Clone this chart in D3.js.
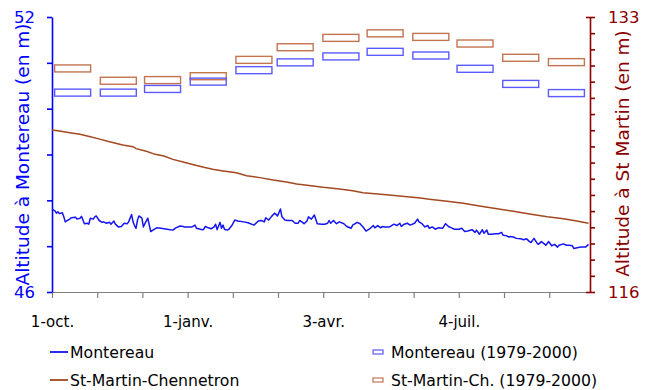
<!DOCTYPE html>
<html>
<head>
<meta charset="utf-8">
<script src="https://cdn.jsdelivr.net/npm/d3@7/dist/d3.min.js"></script>
<style>
  body { margin: 0; background: #fff; }
  text { font-family: "DejaVu Sans", sans-serif; }
</style>
</head>
<body>
<div id="chart"></div>
<script>
// day index from 1-oct (0) to 30-sept (364)
var montereauDaily = [
	[0,47.81],[2,47.77],[3,47.72],[4,47.75],[5,47.71],[7,47.73],[8,47.64],[9,47.53],[10,47.55],[12,47.59],
	[13,47.62],[16,47.63],[17,47.59],[19,47.61],[20,47.65],[21,47.57],[22,47.49],[24,47.50],[25,47.48],[26,47.61],
	[28,47.59],[29,47.64],[30,47.66],[32,47.56],[34,47.52],[35,47.53],[37,47.50],[39,47.52],[40,47.48],[42,47.55],
	[43,47.48],[45,47.42],[47,47.43],[49,47.50],[51,47.49],[52,47.53],[54,47.69],[55,47.53],[56,47.45],[57,47.39],
	[58,47.57],[59,47.66],[61,47.61],[62,47.42],[63,47.49],[65,47.61],[66,47.46],[67,47.32],[69,47.36],[71,47.40],
	[74,47.39],[78,47.37],[82,47.35],[84,47.40],[87,47.44],[89,47.43],[90,47.42],[95,47.42],[97,47.46],[98,47.39],
	[102,47.36],[103,47.37],[104,47.43],[106,47.40],[108,47.38],[110,47.42],[111,47.48],[112,47.36],[114,47.52],[115,47.39],
	[116,47.46],[117,47.37],[119,47.35],[120,47.37],[122,47.45],[124,47.57],[126,47.55],[130,47.53],[133,47.51],[137,47.46],
	[140,47.55],[142,47.56],[144,47.53],[145,47.62],[147,47.57],[149,47.65],[151,47.72],[153,47.66],[155,47.81],[156,47.64],
	[158,47.57],[160,47.56],[163,47.56],[165,47.50],[167,47.50],[168,47.56],[170,47.52],[171,47.49],[173,47.55],[174,47.64],
	[176,47.59],[178,47.68],[180,47.49],[183,47.48],[185,47.48],[187,47.50],[188,47.56],[189,47.50],[191,47.56],[193,47.49],
	[195,47.53],[198,47.49],[200,47.43],[203,47.39],[204,47.46],[207,47.52],[209,47.49],[211,47.42],[213,47.33],[216,47.39],
	[218,47.45],[219,47.40],[221,47.45],[223,47.40],[224,47.43],[226,47.42],[229,47.42],[232,47.48],[234,47.45],[236,47.50],
	[237,47.43],[239,47.48],[241,47.50],[243,47.46],[246,47.50],[248,47.59],[249,47.53],[251,47.49],[253,47.42],[255,47.45],
	[256,47.39],[258,47.42],[260,47.37],[262,47.40],[265,47.39],[267,47.49],[269,47.43],[271,47.40],[273,47.37],[276,47.37],
	[278,47.39],[280,47.32],[282,47.33],[285,47.36],[287,47.30],[288,47.35],[290,47.26],[292,47.36],[293,47.28],[295,47.35],
	[296,47.26],[298,47.26],[301,47.27],[303,47.27],[305,47.30],[306,47.24],[308,47.23],[310,47.20],[311,47.21],[313,47.20],
	[315,47.17],[318,47.16],[320,47.14],[322,47.16],[324,47.10],[325,47.08],[327,47.17],[329,47.07],[330,47.04],[332,47.10],
	[334,47.05],[335,47.02],[337,47.10],[339,47.01],[341,47.04],[343,46.98],[344,47.02],[347,47.05],[349,47.02],[351,47.02],
	[353,47.01],[354,46.95],[357,46.97],[359,46.98],[362,46.98],[364,47.04]
];

var stMartinDaily = [
	[0,126.01],[5,125.95],[12,125.85],[19,125.75],[26,125.60],[31,125.48],[39,125.29],[48,125.09],[55,124.98],[57,124.86],
	[64,124.70],[70,124.51],[76,124.41],[82,124.20],[89,124.04],[96,123.87],[103,123.71],[109,123.59],[115,123.50],[125,123.37],
	[132,123.19],[141,123.07],[150,122.92],[159,122.80],[166,122.68],[173,122.60],[184,122.47],[195,122.37],[204,122.26],[211,122.14],
	[227,122.01],[241,121.89],[250,121.81],[256,121.73],[268,121.61],[279,121.48],[290,121.32],[302,121.15],[313,120.99],[324,120.82],
	[336,120.65],[347,120.53],[356,120.39],[364,120.25]
];

// 1979-2000 monthly means, placed on the 15th of each month
var months = ["oct", "nov", "déc", "janv", "févr", "mars", "avr", "mai", "juin", "juil", "août", "sept"];
var monthDays = [14, 45, 75, 106, 137, 165, 196, 226, 257, 287, 318, 349];
var montereauMonthly = [50.35, 50.35, 50.43, 50.59, 50.84, 51.01, 51.14, 51.24, 51.16, 50.87, 50.54, 50.34];
var stMartinMonthly = [129.82, 129.06, 129.10, 129.34, 130.35, 131.13, 131.71, 131.99, 131.77, 131.36, 130.48, 130.21];

var xTickDays = d3.range(12).map(function(i) { return i * 92 / 3; });
var xLabels = ["1-oct.", "1-janv.", "3-avr.", "4-juil."];
var leftTicks = [46, 47, 48, 49, 50, 51, 52];
var rightTicks = d3.range(116, 134);

var legendItems = [
	{ label: "Montereau", type: "line", color: "#1515f0" },
	{ label: "St-Martin-Chennetron", type: "line", color: "#a3481f" },
	{ label: "Montereau (1979-2000)", type: "box", color: "#5a5aff" },
	{ label: "St-Martin-Ch. (1979-2000)", type: "box", color: "#c47350" }
];

var W = 649, H = 390;
var dims = { left: 52, right: 590, top: 17, bottom: 292 };

var svg = d3.select("#chart").append("svg")
	.attr("width", W)
	.attr("height", H);

var x = d3.scaleLinear().domain([0, 365]).range([dims.left, dims.right]);
var yL = d3.scaleLinear().domain([46, 52]).range([dims.bottom, dims.top]);
var yR = d3.scaleLinear().domain([116, 133]).range([dims.bottom, dims.top]);

// x axis
var xAxis = svg.append("g")
	.attr("transform", "translate(0," + dims.bottom + ")")
	.call(d3.axisBottom(x)
		.tickValues(xTickDays)
		.tickSizeInner(6)
		.tickSizeOuter(0)
		.tickPadding(18)
		.tickFormat(function(d, i) { return i % 3 == 0 ? xLabels[i / 3] : ""; }));
xAxis.selectAll("path, line").attr("stroke", "#808080").attr("stroke-width", 1.2);
xAxis.selectAll("text").attr("fill", "#000").style("font-size", "15px");

// left axis
var leftAxis = svg.append("g")
	.attr("transform", "translate(" + dims.left + ",0)")
	.call(d3.axisLeft(yL)
		.tickValues(leftTicks)
		.tickSizeInner(5)
		.tickSizeOuter(0)
		.tickPadding(12)
		.tickFormat(function(d) { return d == 46 || d == 52 ? d : ""; }));
leftAxis.selectAll("path, line").attr("stroke", "#0000ff").attr("stroke-width", 1.6);
leftAxis.selectAll("text").attr("fill", "#0000ff").style("font-size", "16.5px");

// right axis
var rightAxis = svg.append("g")
	.attr("transform", "translate(" + dims.right + ",0)")
	.call(d3.axisRight(yR)
		.tickValues(rightTicks)
		.tickSizeInner(5)
		.tickSizeOuter(0)
		.tickPadding(13)
		.tickFormat(function(d) { return d == 116 || d == 133 ? d : ""; }));
rightAxis.selectAll("path, line").attr("stroke", "#8b0000").attr("stroke-width", 1.6);
rightAxis.selectAll("text").attr("fill", "#8b0000").style("font-size", "16.5px");
// end ticks cross the axis
rightAxis.selectAll(".tick")
	.filter(function(d) { return d == 116 || d == 133; })
	.select("line").attr("x1", -4);

// axis titles
svg.append("text")
	.attr("transform", "translate(22," + ((dims.top + dims.bottom) / 2) + ") rotate(-90)")
	.attr("text-anchor", "middle")
	.attr("dominant-baseline", "central")
	.attr("fill", "#0000ff")
	.style("font-size", "18.5px")
	.text("Altitude à Montereau (en m)");
svg.append("text")
	.attr("transform", "translate(622," + ((dims.top + dims.bottom) / 2 - 1) + ") rotate(-90)")
	.attr("text-anchor", "middle")
	.attr("dominant-baseline", "central")
	.attr("fill", "#8b0000")
	.style("font-size", "18.5px")
	.text("Altitude à St Martin (en m)");

// monthly boxes
var boxW = 36, boxH = 7;
svg.append("g").selectAll("rect")
	.data(stMartinMonthly)
	.enter().append("rect")
	.attr("x", function(d, i) { return x(monthDays[i]) - boxW / 2; })
	.attr("y", function(d) { return yR(d) - boxH / 2; })
	.attr("width", boxW)
	.attr("height", boxH)
	.attr("fill", "none")
	.attr("stroke", legendItems[3].color)
	.attr("stroke-width", 1.4);
svg.append("g").selectAll("rect")
	.data(montereauMonthly)
	.enter().append("rect")
	.attr("x", function(d, i) { return x(monthDays[i]) - boxW / 2; })
	.attr("y", function(d) { return yL(d) - boxH / 2; })
	.attr("width", boxW)
	.attr("height", boxH)
	.attr("fill", "none")
	.attr("stroke", legendItems[2].color)
	.attr("stroke-width", 1.4);

// daily lines
var lineL = d3.line().x(function(d) { return x(d[0]); }).y(function(d) { return yL(d[1]); });
var lineR = d3.line().x(function(d) { return x(d[0]); }).y(function(d) { return yR(d[1]); });
svg.append("path")
	.attr("d", lineR(stMartinDaily))
	.attr("fill", "none")
	.attr("stroke", legendItems[1].color)
	.attr("stroke-width", 1.5);
svg.append("path")
	.attr("d", lineL(montereauDaily))
	.attr("fill", "none")
	.attr("stroke", legendItems[0].color)
	.attr("stroke-width", 1.5)
	.attr("stroke-linejoin", "round");

// legend
var legend = svg.append("g").selectAll("g")
	.data(legendItems)
	.enter().append("g")
	.attr("transform", function(d, i) {
		return "translate(" + (i < 2 ? 50 : 373) + "," + (i % 2 == 0 ? 352 : 380) + ")";
	});
legend.filter(function(d) { return d.type == "line"; })
	.append("line")
	.attr("x1", 0).attr("x2", 18)
	.attr("stroke", function(d) { return d.color; })
	.attr("stroke-width", 1.8);
legend.filter(function(d) { return d.type == "box"; })
	.append("rect")
	.attr("x", 0).attr("y", -2).attr("width", 10).attr("height", 4)
	.attr("fill", "none")
	.attr("stroke", function(d) { return d.color; })
	.attr("stroke-width", 1.2);
legend.append("text")
	.attr("x", function(d) { return d.type == "line" ? 20 : 18; })
	.attr("dy", "0.35em")
	.style("font-size", "15.7px")
	.text(function(d) { return d.label; });
</script>
</body>
</html>
